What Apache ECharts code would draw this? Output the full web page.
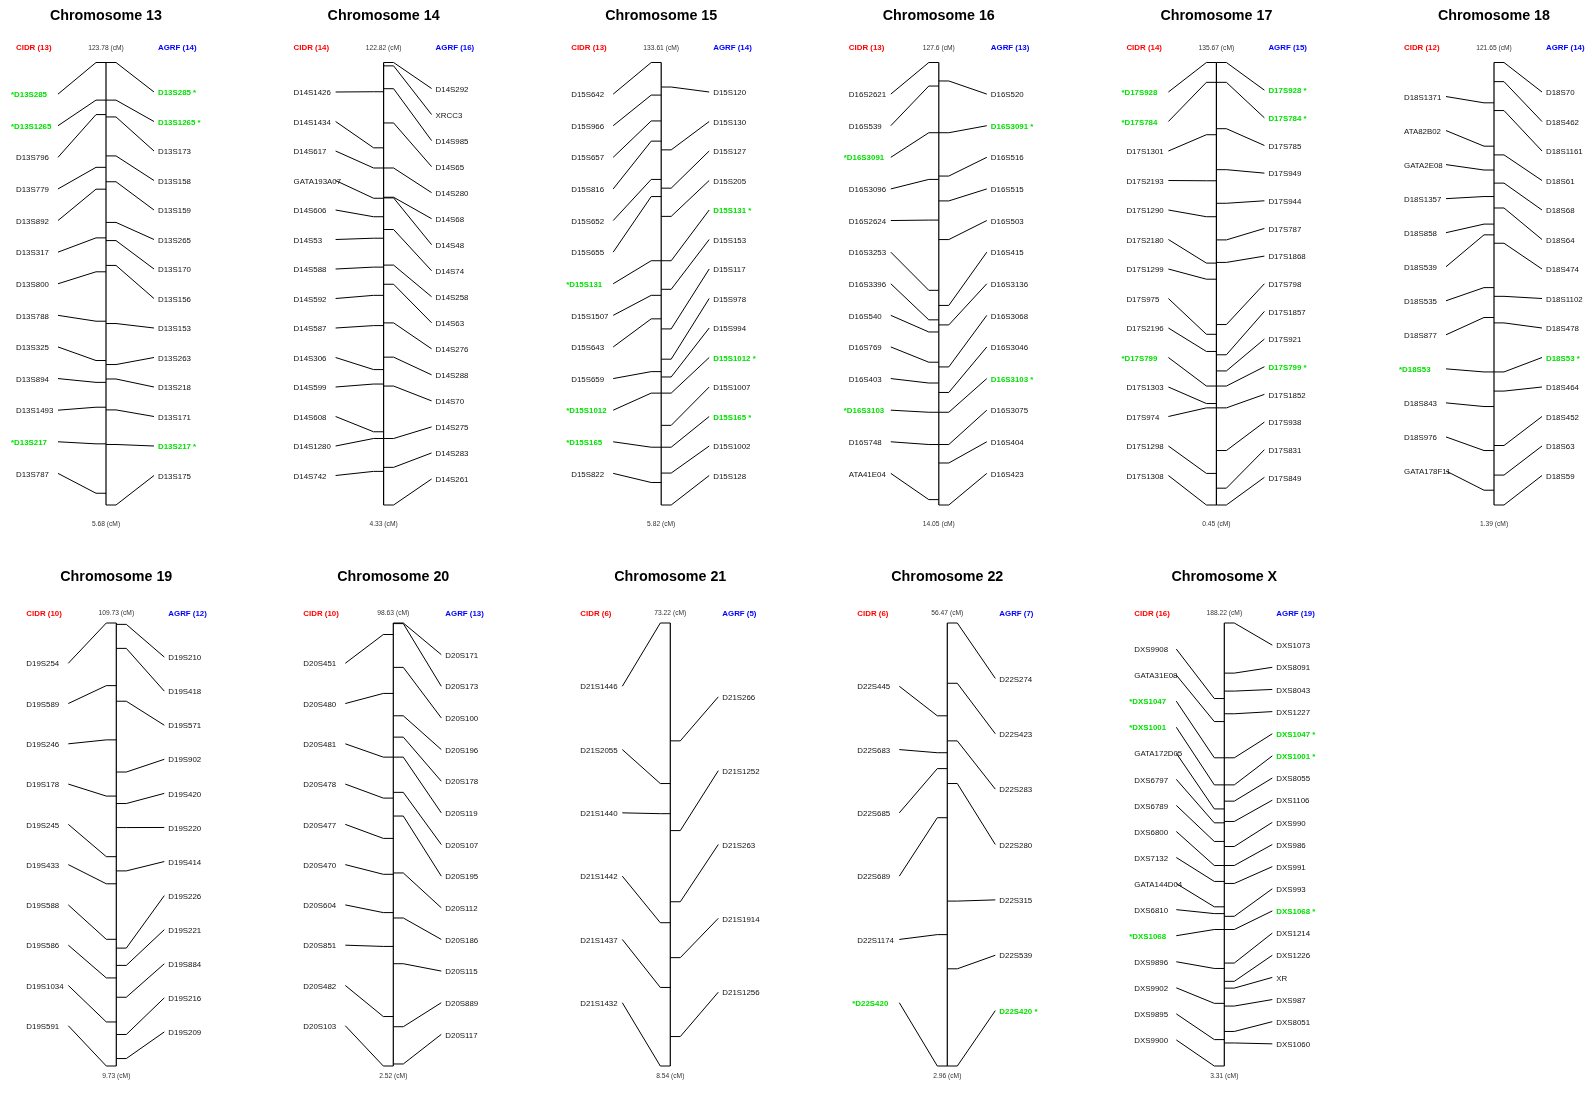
<!DOCTYPE html>
<html>
<head>
<meta charset="utf-8">
<script src="https://cdn.jsdelivr.net/npm/echarts@6/dist/echarts.min.js"></script>
<style>
  html, body { margin: 0; padding: 0; background: #fff; }
  #chart { width: 1596px; height: 1094px; }
</style>
</head>
<body>
<div id="chart"></div>
<script>
// chromosomes, top / bottom of the map (cM)
var chromNames = ['13', '14', '15', '16', '17', '18', '19', '20', '21', '22', 'X'];
var topCM = [123.78, 122.82, 133.61, 127.6, 135.67, 121.65, 109.73, 98.63, 73.22, 56.47, 188.22];
var bottomCM = [5.68, 4.33, 5.82, 14.05, 0.45, 1.39, 9.73, 2.52, 8.54, 2.96, 3.31];

// CIDR markers (left) and AGRF markers (right): [name, cM]
var cidr13 = [['*D13S285', 123.78], ['*D13S1265', 113.74], ['D13S796', 109.88], ['D13S779', 95.8], ['D13S892', 89.97],
  ['D13S317', 76.97], ['D13S800', 67.92], ['D13S788', 54.73], ['D13S325', 44.24], ['D13S894', 38.41],
  ['D13S1493', 31.78], ['*D13S217', 22.0], ['D13S787', 8.82]];
var agrf13 = [['D13S285 *', 123.78], ['D13S1265 *', 113.74], ['D13S173', 109.25], ['D13S158', 98.85], ['D13S159', 91.95],
  ['D13S265', 81.1], ['D13S170', 76.25], ['D13S156', 69.62], ['D13S153', 54.11], ['D13S263', 43.17],
  ['D13S218', 39.31], ['D13S171', 31.06], ['D13S217 *', 21.83], ['D13S175', 5.68]];

var cidr14 = [['D14S1426', 114.99], ['D14S1434', 99.97], ['D14S617', 94.57], ['GATA193A07', 86.47], ['D14S606', 81.52],
  ['D14S53', 75.77], ['D14S588', 68.03], ['D14S592', 60.47], ['D14S587', 52.37], ['D14S306', 40.59],
  ['D14S599', 36.72], ['D14S608', 23.94], ['D14S1280', 22.14], ['D14S742', 13.33]];
var agrf14 = [['D14S292', 122.82], ['XRCC3', 121.92], ['D14S985', 115.8], ['D14S65', 106.63], ['D14S280', 94.57],
  ['D14S68', 86.74], ['D14S48', 86.56], ['D14S74', 78.1], ['D14S258', 68.57], ['D14S63', 63.44],
  ['D14S276', 53.09], ['D14S288', 43.92], ['D14S70', 36.18], ['D14S275', 22.14], ['D14S283', 14.41], ['D14S261', 4.33]];

var cidr15 = [['D15S642', 133.61], ['D15S966', 124.2], ['D15S657', 116.73], ['D15S816', 110.9], ['D15S652', 99.84],
  ['D15S655', 94.89], ['*D15S131', 76.36], ['D15S1507', 66.37], ['D15S643', 59.58], ['D15S659', 44.34],
  ['*D15S1012', 38.13], ['*D15S165', 22.51], ['D15S822', 12.32]];
var agrf15 = [['D15S120', 126.53], ['D15S130', 108.38], ['D15S127', 97.32], ['D15S205', 89.17], ['D15S131 *', 76.36],
  ['D15S153', 68.11], ['D15S117', 56.67], ['D15S978', 47.93], ['D15S994', 42.79], ['D15S1012 *', 38.13],
  ['D15S1007', 28.82], ['D15S165 *', 22.51], ['D15S1002', 15.04], ['D15S128', 5.82]];

var cidr16 = [['D16S2621', 127.6], ['D16S539', 121.56], ['*D16S3091', 109.58], ['D16S3096', 97.6], ['D16S2624', 87.16],
  ['D16S3253', 69.14], ['D16S3396', 61.56], ['D16S540', 58.45], ['D16S769', 50.69], ['D16S403', 45.35],
  ['*D16S3103', 37.85], ['D16S748', 29.57], ['ATA41E04', 15.43]];
var agrf16 = [['D16S520', 122.86], ['D16S3091 *', 109.58], ['D16S516', 98.46], ['D16S515', 92.08], ['D16S503', 82.16],
  ['D16S415', 65.26], ['D16S3136', 60.26], ['D16S3068', 49.48], ['D16S3046', 42.93], ['D16S3103 *', 37.85],
  ['D16S3075', 29.57], ['D16S404', 24.83], ['D16S423', 14.05]];

var cidr17 = [['*D17S928', 135.67], ['*D17S784', 129.61], ['D17S1301', 113.6], ['D17S2193', 99.53], ['D17S1290', 88.54],
  ['D17S2180', 74.37], ['D17S1299', 69.45], ['D17S975', 52.61], ['D17S2196', 47.37], ['*D17S799', 36.8],
  ['D17S1303', 31.46], ['D17S974', 30.13], ['D17S1298', 10.1], ['D17S1308', 0.45]];
var agrf17 = [['D17S928 *', 135.67], ['D17S784 *', 129.61], ['D17S785', 115.44], ['D17S949', 102.92], ['D17S944', 92.65],
  ['D17S787', 81.46], ['D17S1868', 74.58], ['D17S798', 55.59], ['D17S1857', 46.35], ['D17S921', 41.42],
  ['D17S799 *', 36.8], ['D17S1852', 30.13], ['D17S938', 17.09], ['D17S831', 5.59], ['D17S849', 0.45]];

var cidr18 = [['D18S1371', 110.69], ['ATA82B02', 98.91], ['GATA2E08', 92.43], ['D18S1357', 85.22], ['D18S858', 77.73],
  ['D18S539', 74.81], ['D18S535', 60.47], ['D18S877', 52.35], ['*D18S53', 37.55], ['D18S843', 28.15],
  ['D18S976', 16.19], ['GATA178F11', 5.41]];
var agrf18 = [['D18S70', 121.65], ['D18S462', 116.45], ['D18S1161', 108.59], ['D18S61', 96.54], ['D18S68', 88.87],
  ['D18S64', 82.11], ['D18S474', 72.53], ['D18S1102', 58.1], ['D18S478', 50.88], ['D18S53 *', 37.55],
  ['D18S464', 32.35], ['D18S452', 17.56], ['D18S63', 9.52], ['D18S59', 1.39]];

var cidr19 = [['D19S254', 109.73], ['D19S589', 95.59], ['D19S246', 83.35], ['D19S178', 70.66], ['D19S245', 56.98],
  ['D19S433', 50.86], ['D19S588', 38.33], ['D19S586', 29.61], ['D19S1034', 19.67], ['D19S591', 9.73]];
var agrf19 = [['D19S210', 109.42], ['D19S418', 104.0], ['D19S571', 92.07], ['D19S902', 76.09], ['D19S420', 68.98],
  ['D19S220', 63.55], ['D19S414', 53.77], ['D19S226', 36.34], ['D19S221', 32.44], ['D19S884', 25.25],
  ['D19S216', 16.84], ['D19S209', 11.41]];

var cidr20 = [['D20S451', 96.13], ['D20S480', 83.35], ['D20S481', 69.53], ['D20S478', 60.64], ['D20S477', 51.9],
  ['D20S470', 44.11], ['D20S604', 35.8], ['D20S851', 28.46], ['D20S482', 13.25], ['D20S103', 2.52]];
var agrf20 = [['D20S171', 98.63], ['D20S173', 98.5], ['D20S100', 89.0], ['D20S196', 78.5], ['D20S178', 73.87],
  ['D20S119', 69.53], ['D20S107', 61.89], ['D20S195', 56.75], ['D20S112', 44.4], ['D20S186', 34.63],
  ['D20S115', 24.71], ['D20S889', 11.04], ['D20S117', 2.96]];

var cidr21 = [['D21S1446', 73.22], ['D21S2055', 49.78], ['D21S1440', 45.38], ['D21S1442', 29.46], ['D21S1437', 20.01],
  ['D21S1432', 8.54]];
var agrf21 = [['D21S266', 56.01], ['D21S1252', 42.91], ['D21S263', 32.52], ['D21S1914', 24.36], ['D21S1256', 12.84]];

var cidr22 = [['D22S445', 45.26], ['D22S683', 40.8], ['D22S685', 38.88], ['D22S689', 32.95], ['D22S1174', 18.83],
  ['*D22S420', 2.96]];
var agrf22 = [['D22S274', 56.47], ['D22S423', 49.19], ['D22S283', 42.23], ['D22S280', 37.08], ['D22S315', 22.88],
  ['D22S539', 14.7], ['D22S420 *', 2.96]];

var cidrX = [['DXS9908', 156.69], ['GATA31E08', 147.08], ['*DXS1047', 131.95], ['*DXS1001', 120.65], ['GATA172D05', 110.61],
  ['DXS6797', 104.81], ['DXS6789', 97.04], ['DXS6800', 87.0], ['DXS7132', 80.35], ['GATA144D04', 69.75],
  ['DXS6810', 66.92], ['*DXS1068', 60.28], ['DXS9896', 44.02], ['DXS9902', 29.46], ['DXS9895', 14.33], ['DXS9900', 3.31]];
var agrfX = [['DXS1073', 188.22], ['DXS8091', 167.3], ['DXS8043', 159.8], ['DXS1227', 150.33], ['DXS1047 *', 131.95],
  ['DXS1001 *', 120.65], ['DXS8055', 113.86], ['DXS1106', 105.38], ['DXS990', 94.92], ['DXS986', 87.0],
  ['DXS991', 79.51], ['DXS993', 65.79], ['DXS1068 *', 60.28], ['DXS1214', 46.28], ['DXS1226', 38.65],
  ['XR', 35.82], ['DXS987', 28.33], ['DXS8051', 17.73], ['DXS1060', 12.92]];

var cidrAll = [cidr13, cidr14, cidr15, cidr16, cidr17, cidr18, cidr19, cidr20, cidr21, cidr22, cidrX];
var agrfAll = [agrf13, agrf14, agrf15, agrf16, agrf17, agrf18, agrf19, agrf20, agrf21, agrf22, agrfX];

// layout
var rows = [
  { barTop: 62.5, barBottom: 505, titleY: 16.5, headY: 48, footY: 524, x0: 106, step: 277.6 },
  { barTop: 623, barBottom: 1066, titleY: 577, headY: 613.5, footY: 1076, x0: 116.3, step: 277 }
];
var FONT = '"Liberation Sans", Arial, sans-serif';

var chart = echarts.init(document.getElementById('chart'));
var grids = [], xAxes = [], yAxes = [], series = [], graphics = [];

function makeRender(markers, side) {
  return function (params, api) {
    var name = markers[params.dataIndex][0];
    var mk = api.coord([0, api.value(0)]);
    var lb = api.coord([0, api.value(1)]);
    var bx = mk[0];
    var hit = name.indexOf('*') >= 0;
    return {
      type: 'group',
      children: [
        {
          type: 'polyline',
          shape: { points: [[bx, mk[1]], [bx + side * 10, mk[1]], [bx + side * 48, lb[1]]] },
          style: { stroke: '#000', lineWidth: 1, fill: null }
        },
        {
          type: 'text',
          x: side < 0 ? bx - (hit ? 95 : 90) : bx + 52,
          y: lb[1] + 1,
          style: {
            text: name,
            fill: hit ? '#00e000' : '#111',
            font: (hit ? 'bold ' : '') + '7.9px ' + FONT,
            align: 'left',
            verticalAlign: 'middle'
          }
        }
      ]
    };
  };
}

chromNames.forEach(function (c, k) {
  var r = k < 6 ? rows[0] : rows[1];
  var col = k < 6 ? k : k - 6;
  var bx = r.x0 + r.step * col;
  var hi = topCM[k], lo = bottomCM[k];

  grids.push({ left: bx - 100, width: 200, top: r.barTop, height: r.barBottom - r.barTop });
  xAxes.push({ type: 'value', gridIndex: k, min: -100, max: 100, show: false });
  yAxes.push({ type: 'value', gridIndex: k, min: lo, max: hi, show: false });

  series.push({
    type: 'line', xAxisIndex: k, yAxisIndex: k, silent: true, symbol: 'none',
    data: [[0, lo], [0, hi]], lineStyle: { color: '#000', width: 1.2 }
  });

  [[cidrAll[k], -1], [agrfAll[k], 1]].forEach(function (pair) {
    var markers = pair[0], n = markers.length;
    series.push({
      type: 'custom', xAxisIndex: k, yAxisIndex: k, clip: false, silent: true,
      renderItem: makeRender(markers, pair[1]),
      data: markers.map(function (m, i) {
        return [m[1], hi - (hi - lo) * (i + 1) / (n + 1)];
      })
    });
  });

  graphics.push(
    { type: 'text', x: bx, y: r.titleY, style: { text: 'Chromosome ' + c, font: 'bold 14.3px ' + FONT, fill: '#000', align: 'center', verticalAlign: 'middle' } },
    { type: 'text', x: bx - 90, y: r.headY, style: { text: 'CIDR (' + cidrAll[k].length + ')', font: 'bold 7.9px ' + FONT, fill: '#ff0000', align: 'left', verticalAlign: 'middle' } },
    { type: 'text', x: bx + 52, y: r.headY, style: { text: 'AGRF (' + agrfAll[k].length + ')', font: 'bold 7.9px ' + FONT, fill: '#0000ff', align: 'left', verticalAlign: 'middle' } },
    { type: 'text', x: bx, y: r.headY, style: { text: hi + ' (cM)', font: '6.7px ' + FONT, fill: '#333', align: 'center', verticalAlign: 'middle' } },
    { type: 'text', x: bx, y: r.footY, style: { text: lo + ' (cM)', font: '6.7px ' + FONT, fill: '#333', align: 'center', verticalAlign: 'middle' } }
  );
});

chart.setOption({
  animation: false,
  backgroundColor: '#fff',
  grid: grids,
  xAxis: xAxes,
  yAxis: yAxes,
  series: series,
  graphic: graphics
});
</script>
</body>
</html>
